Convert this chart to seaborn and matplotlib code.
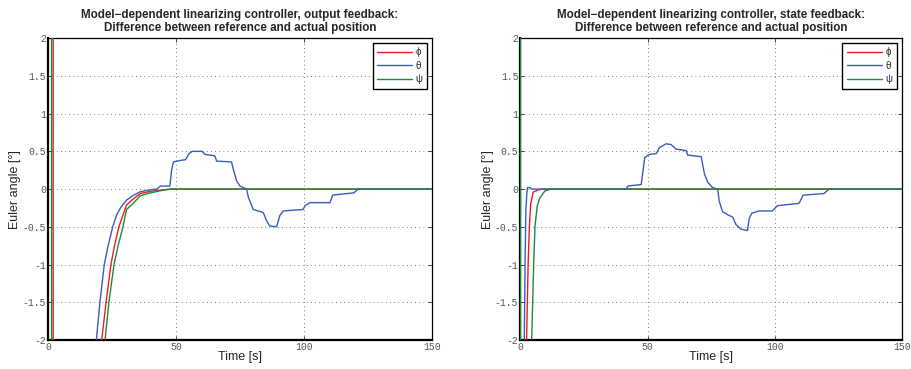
"""Euler angle error of the model-dependent linearizing controller (output vs state feedback)."""

import matplotlib

matplotlib.use("Agg")
import matplotlib.pyplot as plt
import pandas as pd
import seaborn as sns

# ---------------------------------------------------------------------------
# Data (time [s], angle difference [deg])
# ---------------------------------------------------------------------------

ANGLE_NAMES = ["\u03d5", "\u03b8", "\u03c8"]
PANEL_TITLES = [
    "Model\u2212dependent linearizing controller, output feedback:\n"
    "Difference between reference and actual position",
    "Model\u2212dependent linearizing controller, state feedback:\n"
    "Difference between reference and actual position",
]
X_TICKS = [0, 50, 100, 150]
Y_TICKS = [-2, -1.5, -1, -0.5, 0, 0.5, 1, 1.5, 2]

# output feedback
t_phi_out = [0, 2.0, 2.05, 15, 21.0, 22.7, 24.6, 26.0, 27.7, 30.7,
             33, 36, 40, 45, 48, 150]
phi_out = [6, 6, -6, -8, -2, -1.5, -1, -0.75, -0.5, -0.21,
           -0.14, -0.06, -0.03, -0.01, 0, 0]

t_theta_out = [0, 13, 18.9, 20.3, 22, 23.5, 25.3, 26.8,
               28.5, 30.7, 33, 36, 40, 42.5, 44, 47.6, 48.3, 49,
               51.8, 53.8, 55.1, 56.4, 60.2, 61.3, 65.2, 65.9, 71.7, 72.5,
               73.7, 75, 77.6, 78.3, 80.2, 84.1, 85.4, 86.7, 89.3, 90.6,
               91.9, 99.7, 100.4, 102.3, 110.2, 111.2, 119.5, 121.2, 150]
theta_out = [-8, -8, -2, -1.5, -1, -0.75, -0.5, -0.345,
             -0.24, -0.146, -0.09, -0.036, -0.01, 0, 0.04, 0.04, 0.25, 0.36,
             0.38, 0.39, 0.47, 0.5, 0.5, 0.46, 0.44, 0.37, 0.36, 0.25,
             0.11, 0.04, 0, -0.11, -0.27, -0.31, -0.42, -0.49, -0.5, -0.35,
             -0.29, -0.27, -0.22, -0.18, -0.18, -0.08, -0.05, 0, 0]

t_psi_out = [0, 1.4, 1.45, 16, 22.3, 23.8, 25.8, 27.4, 29.3, 30.7,
             33, 36, 40, 45, 48, 150]
psi_out = [6, 6, -6, -8, -2, -1.5, -1, -0.75, -0.5, -0.27,
           -0.2, -0.09, -0.05, -0.015, 0, 0]

# state feedback
t_phi_state = [0, 1.5, 2.4, 2.7, 3.0, 3.5, 4.0, 5.0, 7.0, 9.0, 150]
phi_state = [-8, -6, -2, -1.5, -1, -0.5, -0.2, -0.04, -0.01, 0, 0]

t_theta_state = [0, 1.0, 1.5, 1.8, 2.1, 2.5, 2.8, 3.6, 4.5, 41.6,
                 42.2, 47.5, 48.2, 48.9, 50.8, 53.4, 54.7, 57.3, 59.3, 61.2,
                 65.2, 65.8, 71.1, 72.4, 73.7, 75.6, 77.6, 78.2, 79.5, 82.1,
                 83.5, 84.8, 86.7, 89.3, 90.0, 91.0, 93.9, 99.1, 101.1, 109.6,
                 111.2, 119.4, 121.4, 150]
theta_state = [-8, -6, -2, -1, -0.3, -0.05, 0.02, 0.02, 0, 0,
               0.04, 0.06, 0.24, 0.42, 0.46, 0.47, 0.55, 0.6, 0.59, 0.53,
               0.51, 0.45, 0.43, 0.2, 0.09, 0.02, 0, -0.16, -0.3, -0.35,
               -0.37, -0.47, -0.53, -0.55, -0.39, -0.32, -0.29, -0.29, -0.22, -0.19,
               -0.08, -0.06, 0, 0]

t_psi_state = [0, 0.05, 3.5, 4.4, 4.8, 5.2, 5.7, 6.6, 7.6, 9.6, 12, 150]
psi_state = [6, -8, -6, -2, -1.5, -1, -0.5, -0.22, -0.12, -0.025, 0, 0]

COLOURS = {"\u03d5": "#ee1c1c", "\u03b8": "#3a5cc0", "\u03c8": "#1e8a3c"}

# ---------------------------------------------------------------------------
# Style
# ---------------------------------------------------------------------------

sns.set_style("ticks")
plt.rcParams["font.family"] = ["Liberation Sans", "DejaVu Sans"]
TICK_FONT = dict(family="Liberation Mono", size=7, color="#555555")


def make_frame(series):
    frames = []
    for name, (t, v) in zip(ANGLE_NAMES, series):
        frames.append(pd.DataFrame({"time": t, "angle": v, "axis": name}))
    return pd.concat(frames, ignore_index=True)


def draw_panel(ax, df, title):
    sns.lineplot(
        data=df, x="time", y="angle", hue="axis", hue_order=ANGLE_NAMES,
        palette=COLOURS, estimator=None, sort=False, linewidth=1.0, ax=ax,
        zorder=3,
    )
    ax.set_xlim(0, 150)
    ax.set_ylim(-2, 2)
    ax.set_xticks(X_TICKS)
    ax.set_yticks(Y_TICKS)
    ax.set_xticklabels([f"{x:g}" for x in X_TICKS], **TICK_FONT)
    ax.set_yticklabels([f"{y:g}" for y in Y_TICKS], **TICK_FONT)
    ax.tick_params(direction="in", length=3, width=0.6, pad=1.5,
                   top=True, right=True)
    ax.grid(True, linestyle=(0, (1, 4)), color="#555555", linewidth=0.6)
    for side in ["left", "bottom"]:
        ax.spines[side].set_linewidth(1.6)
    for side in ["top", "right"]:
        ax.spines[side].set_linewidth(0.9)
    for spine in ax.spines.values():
        spine.set_color("black")
    ax.set_xlabel("Time [s]", fontsize=9, labelpad=-1)
    ax.set_ylabel("Euler angle [\u00b0]", fontsize=9, labelpad=1)
    ax.set_title(title, fontsize=8.4, fontweight="bold", linespacing=1.15, pad=5)

    leg = ax.legend(
        loc="upper right", fontsize=7, handlelength=3.6, handletextpad=0.4,
        labelspacing=0.35, borderaxespad=0.5, borderpad=0.45,
        fancybox=False, framealpha=1, edgecolor="black",
    )
    leg.get_frame().set_linewidth(1.0)
    leg.set_zorder(5)


def main():
    fig = plt.figure(figsize=(9.12, 3.69), dpi=100)
    ax_out = fig.add_axes([0.0526, 0.0786, 0.421, 0.818])
    ax_state = fig.add_axes([0.5707, 0.0786, 0.418, 0.818])

    df_out = make_frame([(t_phi_out, phi_out), (t_theta_out, theta_out),
                         (t_psi_out, psi_out)])
    df_state = make_frame([(t_phi_state, phi_state), (t_theta_state, theta_state),
                           (t_psi_state, psi_state)])

    draw_panel(ax_out, df_out, PANEL_TITLES[0])
    draw_panel(ax_state, df_state, PANEL_TITLES[1])

    fig.savefig("out.png", dpi=100)
    plt.close(fig)


if __name__ == "__main__":
    main()
